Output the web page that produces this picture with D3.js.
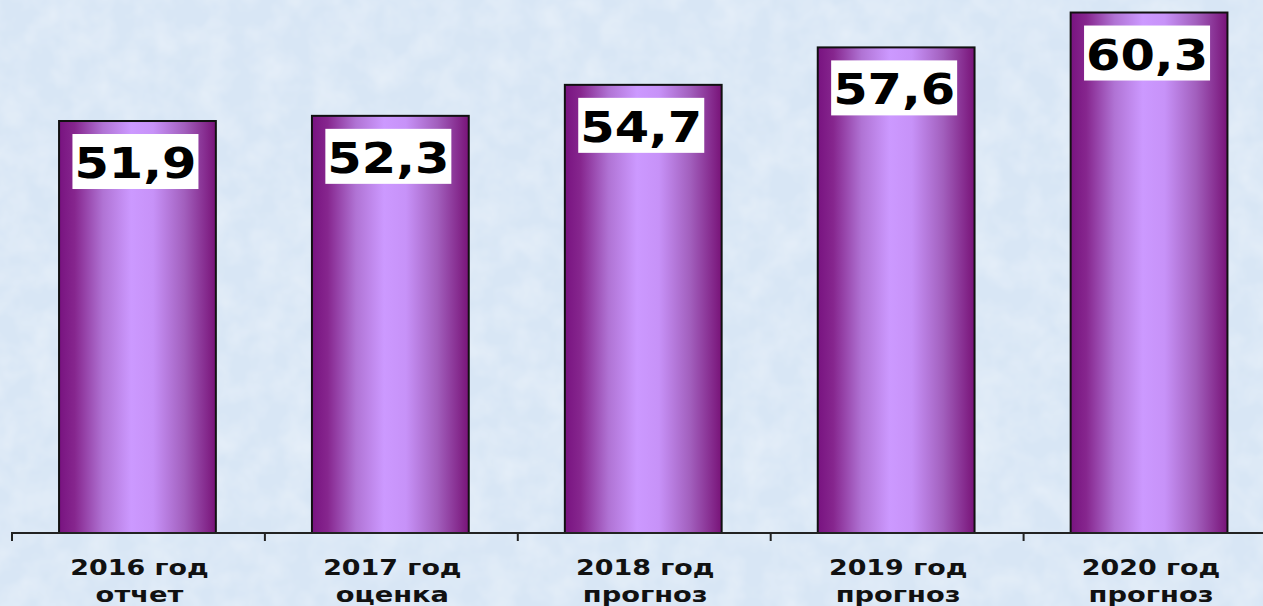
<!DOCTYPE html>
<html>
<head>
<meta charset="utf-8">
<script src="https://cdn.jsdelivr.net/npm/d3@7"></script>
<style>
  html, body { margin: 0; padding: 0; background: #dce8f6; }
  svg { display: block; }
</style>
</head>
<body>
<div id="chart"></div>
<script>
// Chart data
var years = ["2016 год", "2017 год", "2018 год", "2019 год", "2020 год"];
var notes = ["отчет", "оценка", "прогноз", "прогноз", "прогноз"];
var values = [51.9, 52.3, 54.7, 57.6, 60.3];
var valueLabels = ["51,9", "52,3", "54,7", "57,6", "60,3"];

var width = 1263, height = 606;
var baseY = 533;

var svg = d3.select("#chart").append("svg")
    .attr("width", width)
    .attr("height", height);

var defs = svg.append("defs");

// textured pale blue background
var tex = defs.append("filter").attr("id", "tex")
    .attr("x", 0).attr("y", 0).attr("width", "100%").attr("height", "100%");
tex.append("feTurbulence")
    .attr("type", "fractalNoise")
    .attr("baseFrequency", 0.035)
    .attr("numOctaves", 3)
    .attr("seed", 4)
    .attr("result", "noise");
tex.append("feColorMatrix")
    .attr("in", "noise")
    .attr("type", "matrix")
    .attr("values", "0 0 0 0 1  0 0 0 0 1  0 0 0 0 1  0 0 0 0.55 -0.18");

var grad = defs.append("linearGradient").attr("id", "barGrad")
    .attr("x1", "0%").attr("x2", "100%").attr("y1", "0%").attr("y2", "0%");
[[0, "#781380"], [0.1, "#86268e"], [0.28, "#b073d4"], [0.46, "#cc99ff"],
 [0.6, "#c792f8"], [0.8, "#a25fbd"], [1, "#781378"]].forEach(function(s) {
    grad.append("stop").attr("offset", s[0]).attr("stop-color", s[1]);
});

svg.append("rect")
    .attr("width", width).attr("height", height)
    .attr("fill", "#d8e6f5");
svg.append("rect")
    .attr("width", width).attr("height", height)
    .attr("fill", "#fff")
    .attr("filter", "url(#tex)");

// scales
var x = d3.scaleBand()
    .domain(years)
    .range([11, 11 + 5 * 252.9])
    .paddingInner(0.38)
    .paddingOuter(0.19);

var y = d3.scaleLinear()
    .domain([20, 61])
    .range([baseY, baseY - 41 * 12.915]);

// bars
svg.selectAll("rect.bar")
    .data(values)
    .enter()
    .append("rect")
    .attr("class", "bar")
    .attr("x", function(d, i) { return x(years[i]); })
    .attr("y", function(d) { return y(d); })
    .attr("width", x.bandwidth())
    .attr("height", function(d) { return baseY - y(d); })
    .attr("fill", "url(#barGrad)")
    .attr("stroke", "#111")
    .attr("stroke-width", 2);

// stretch text a bit wider, like the original
function widen(sel, k) {
    sel.each(function() {
        var w = this.getComputedTextLength();
        d3.select(this)
            .attr("textLength", w * k)
            .attr("lengthAdjust", "spacingAndGlyphs");
    });
}

// value labels on white boxes
var lab = svg.selectAll("g.vlab")
    .data(values)
    .enter()
    .append("g")
    .attr("class", "vlab")
    .attr("transform", function(d, i) {
        return "translate(" + (x(years[i]) + x.bandwidth() / 2 - 2) + "," + (y(d) + 13) + ")";
    });

lab.append("rect")
    .attr("x", -63)
    .attr("y", 0)
    .attr("width", 126)
    .attr("height", 55)
    .attr("fill", "#fff");

lab.append("text")
    .attr("x", 0)
    .attr("y", 44)
    .attr("text-anchor", "middle")
    .attr("fill", "#000")
    .style("font-family", "'DejaVu Sans', sans-serif")
    .style("font-weight", "bold")
    .style("font-size", "43px")
    .text(function(d, i) { return valueLabels[i]; })
    .call(widen, 1.15);

// axis
var axis = d3.axisBottom(x).tickSize(0).tickFormat("");
var ax = svg.append("g")
    .attr("transform", "translate(0," + baseY + ")")
    .call(axis);
ax.select(".domain").remove();
ax.append("line")
    .attr("x1", 11).attr("x2", width)
    .attr("stroke", "#222").attr("stroke-width", 2);

var step = x.step();
ax.selectAll("line.tick-mark")
    .data(years)
    .enter()
    .append("line")
    .attr("class", "tick-mark")
    .attr("x1", function(d) { return x(d) - x.paddingOuter() * step + 1; })
    .attr("x2", function(d) { return x(d) - x.paddingOuter() * step + 1; })
    .attr("y1", 0)
    .attr("y2", 8)
    .attr("stroke", "#222")
    .attr("stroke-width", 2);

// category labels
var cat = svg.selectAll("g.cat")
    .data(years)
    .enter()
    .append("g")
    .attr("class", "cat")
    .attr("transform", function(d) { return "translate(" + (x(d) + x.bandwidth() / 2 + 2) + ",0)"; })
    .style("font-family", "'DejaVu Sans', sans-serif")
    .style("font-weight", "bold")
    .style("font-size", "21px")
    .attr("fill", "#111");

cat.append("text")
    .attr("y", 575)
    .attr("text-anchor", "middle")
    .text(function(d) { return d; })
    .call(widen, 1.28);

cat.append("text")
    .attr("y", 602)
    .attr("text-anchor", "middle")
    .text(function(d, i) { return notes[i]; })
    .call(widen, 1.3);
</script>
</body>
</html>
